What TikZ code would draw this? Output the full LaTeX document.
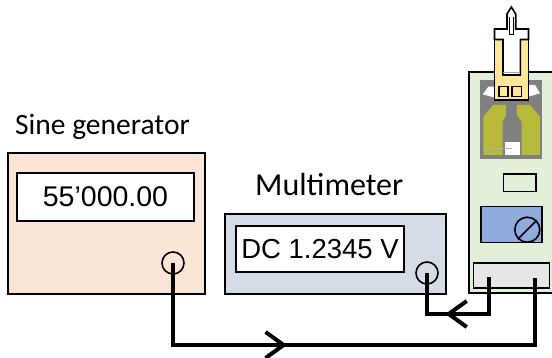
\documentclass[tikz,border=0pt]{standalone}
\usepackage{fontspec}
\setmainfont{Liberation Sans}
\newfontfamily\labelfont{Carlito}
\usetikzlibrary{arrows.meta,decorations.markings}

\definecolor{genfill}{HTML}{FBE5D6}
\definecolor{dmmfill}{HTML}{D6DCE5}
\definecolor{panelfill}{HTML}{E2F0D9}
\definecolor{padgray}{HTML}{808080}
\definecolor{tracecol}{HTML}{B8B83A}
\definecolor{holdercol}{HTML}{FFE699}
\definecolor{knobblue}{HTML}{8FAADC}
\definecolor{plugfill}{HTML}{E7E6E6}

\tikzset{
  instrument/.style={draw=black, line width=2pt, inner sep=0pt},
  display/.style={draw=black, fill=white, line width=2pt, inner sep=0pt,
                  font=\fontsize{28.5}{28.5}\selectfont},
  port/.style={circle, draw=black, line width=1.6pt, minimum size=22pt, inner sep=0pt},
  caption/.style={anchor=base west, inner sep=0pt, font=\labelfont},
  part/.style={draw=black, line width=1.6pt},
  wire/.style={line width=4pt, line join=miter},
  flowmark/.style={postaction={decorate}, decoration={markings,
      mark=at position #1 with {\arrow{Straight Barb[length=18pt, width=26pt]}}}}
}

\begin{document}
\begin{tikzpicture}[x=1pt, y=-1pt]
\useasboundingbox (0,0) rectangle (552,358);
\clip (0,0) rectangle (552,358);

% --- sine generator ---
\node[instrument, fill=genfill, minimum width=197pt, minimum height=141pt] (gen) at (106.5,223.5) {};
\node[display, minimum width=177pt, minimum height=48pt] (gendisp) at (105.5,197) {55’000.00};
\node[port] (genport) at (173,263) {};
\node[caption, font=\labelfont\fontsize{29.5}{29.5}\selectfont] (genlabel) at (15,135) {Sine generator};

% --- multimeter ---
\node[instrument, fill=dmmfill, minimum width=221pt, minimum height=80pt] (dmm) at (335.5,254) {};
\node[display, font=\fontsize{27.5}{27.5}\selectfont, minimum width=168pt, minimum height=46pt] (dmmdisp) at (320,249) {DC 1.2345 V};
\node[port] (dmmport) at (427,273) {};
\node[caption, font=\labelfont\fontsize{32}{32}\selectfont] (dmmlabel) at (255,196) {Multimeter};

% --- probe station panel ---
\filldraw[fill=panelfill, draw=black, line width=2pt] (468.5,72) rectangle (570,293);

% sensor chip: gray substrate, two traces, pad
\fill[padgray] (480,80) rectangle (542,159);
\fill[tracecol] (483.3,116.7) -- (493.3,105) -- (506,105) -- (506,115) -- (502.7,121.7)
               -- (502.7,155) -- (483.3,155) -- cycle;
\fill[tracecol] (516.7,105) -- (530,105) -- (540,116.7) -- (540,155) -- (521.7,155)
               -- (521.7,121.7) -- (516.7,115) -- cycle;
\fill[white] (505,141.7) rectangle (520,155);
\draw[gray!60, line width=0.6pt] (485,148.3) -- (512,148.3);
\fill[white] (482.7,94.3) -- (488.3,86.7) -- (497,86.7) -- (497,98.3) -- cycle;
\fill[white] (540,93.3) -- (535,85) -- (526.7,85) -- (528.3,96.7) -- cycle;

% holder with needle
\filldraw[part, fill=holdercol] (494.5,29) rectangle (528.5,100);
\filldraw[part, fill=white] (511.3,7) -- (515.7,14) -- (515.7,29) -- (528.5,29) -- (528.5,39.5)
      -- (520.3,39.5) -- (520.3,75) -- (503,75) -- (503,39.5) -- (494.5,39.5)
      -- (494.5,29) -- (507,29) -- (507,14) -- cycle;
\draw[line width=1pt] (509.6,17) -- (509.6,35) -- (513,35) -- (513,17);
\draw[gray!70, line width=0.6pt] (503,72.3) -- (520.3,72.3);
\filldraw[part, fill=holdercol] (499,86.7) rectangle (508,96.7);
\filldraw[part, fill=holdercol] (512,86.7) rectangle (521.3,96.7);

% indicator, adjust knob and plug
\draw[part] (503.3,174) rectangle (536,191.7);
\filldraw[part, fill=knobblue] (480.7,206.7) rectangle (541.7,242.7);
\node[circle, draw=black, line width=1.6pt, minimum size=25pt, inner sep=0pt] (knob) at (527.3,229.7) {};
\draw[line width=1.6pt] (knob.225) -- (knob.45);
\filldraw[part, fill=plugfill] (473.3,263.3) rectangle (549.3,288.3);
\coordinate (plugA) at (489.3,277);
\coordinate (plugB) at (535,278);

% --- wiring ---
\coordinate (lowrun) at (535,345);
\coordinate (highrun) at (489.3,314);
\draw[wire, flowmark=196pt] (genport.center) |- (lowrun) -- (plugB);
\draw[wire, flowmark=81pt] (plugA) -- (highrun) -| (dmmport.center);
\end{tikzpicture}
\end{document}
